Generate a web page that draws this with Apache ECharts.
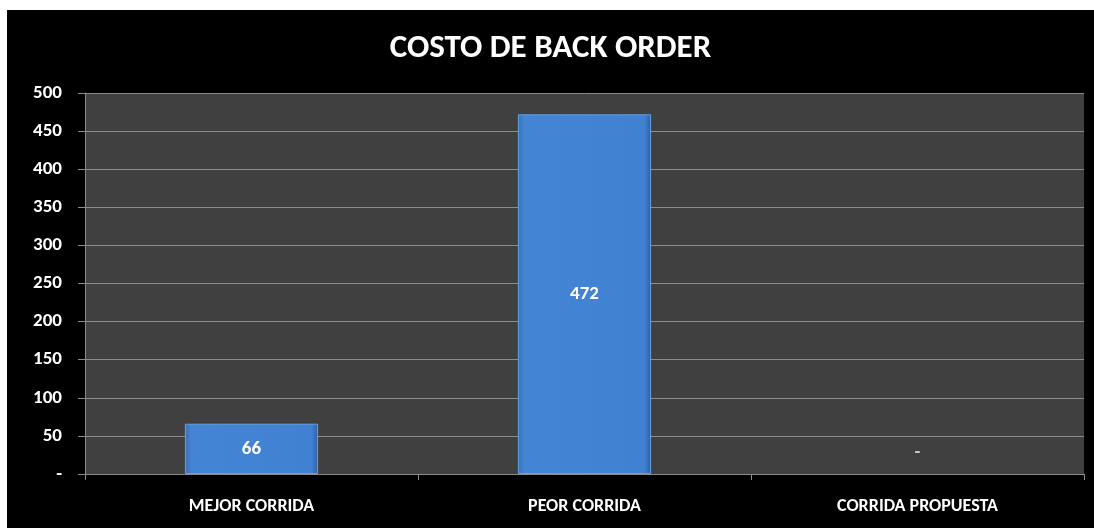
<!DOCTYPE html>
<html>
<head>
<meta charset="utf-8">
<script src="https://cdn.jsdelivr.net/npm/echarts@6/dist/echarts.min.js"></script>
<style>
  html, body { margin: 0; padding: 0; background: #fff; }
  #main { position: absolute; left: 7px; top: 10px; width: 1087px; height: 518px; background: #000; }
</style>
</head>
<body>
<div id="main"></div>
<script>
// datos del grafico
var categorias = ['MEJOR CORRIDA', 'PEOR CORRIDA', 'CORRIDA PROPUESTA'];
var costos = [66, 472, 0];
var titulo = 'COSTO DE BACK ORDER';

var fuente = 'Carlito, "Liberation Sans Narrow", "Open Sans", sans-serif';

var myChart = echarts.init(document.getElementById('main'));

var barColor = new echarts.graphic.LinearGradient(0, 0, 1, 0, [
    { offset: 0, color: '#3b6fb5' },
    { offset: 0.05, color: '#4585d6' },
    { offset: 0.95, color: '#4181d2' },
    { offset: 1, color: '#335f9e' }
]);

var option = {
    backgroundColor: '#000',
    title: {
        text: titulo,
        left: 'center',
        top: 17,
        textStyle: { color: '#fff', fontSize: 33, fontWeight: 'bold', fontFamily: fuente }
    },
    grid: {
        left: 78, right: 10, top: 83, bottom: 54,
        show: true, backgroundColor: '#404040', borderWidth: 0
    },
    xAxis: {
        type: 'category',
        data: categorias,
        axisLine: { lineStyle: { color: '#8c8c8c', width: 1 } },
        axisTick: { show: true, length: 6, lineStyle: { color: '#8c8c8c' } },
        axisLabel: { color: '#fff', fontSize: 18, fontWeight: 'bold', fontFamily: fuente, margin: 23 }
    },
    yAxis: {
        type: 'value',
        min: 0, max: 500, interval: 50,
        axisLine: { show: true, lineStyle: { color: '#8c8c8c' } },
        axisTick: { show: true, length: 7, lineStyle: { color: '#8c8c8c' } },
        splitLine: { lineStyle: { color: '#8c8c8c', width: 1 } },
        axisLabel: {
            color: '#fff', fontSize: 19, fontWeight: 'bold', fontFamily: fuente, margin: 23,
            formatter: function (v) { return v === 0 ? '-' : v; }
        }
    },
    series: [{
        type: 'bar',
        barWidth: '40%',
        itemStyle: { color: barColor, borderColor: '#62a0ea', borderWidth: 1 },
        label: {
            show: true, position: 'inside',
            color: '#fff', fontSize: 19, fontWeight: 'bold', fontFamily: fuente,
            formatter: function (p) { return p.value === 0 ? '-' : p.value; }
        },
        data: costos.map(function (v) {
            return v === 0
                ? { value: v, itemStyle: { borderWidth: 0 }, label: { position: 'insideBottom', distance: 12, color: '#ccc' } }
                : v;
        })
    }]
};

myChart.setOption(option);
</script>
</body>
</html>
